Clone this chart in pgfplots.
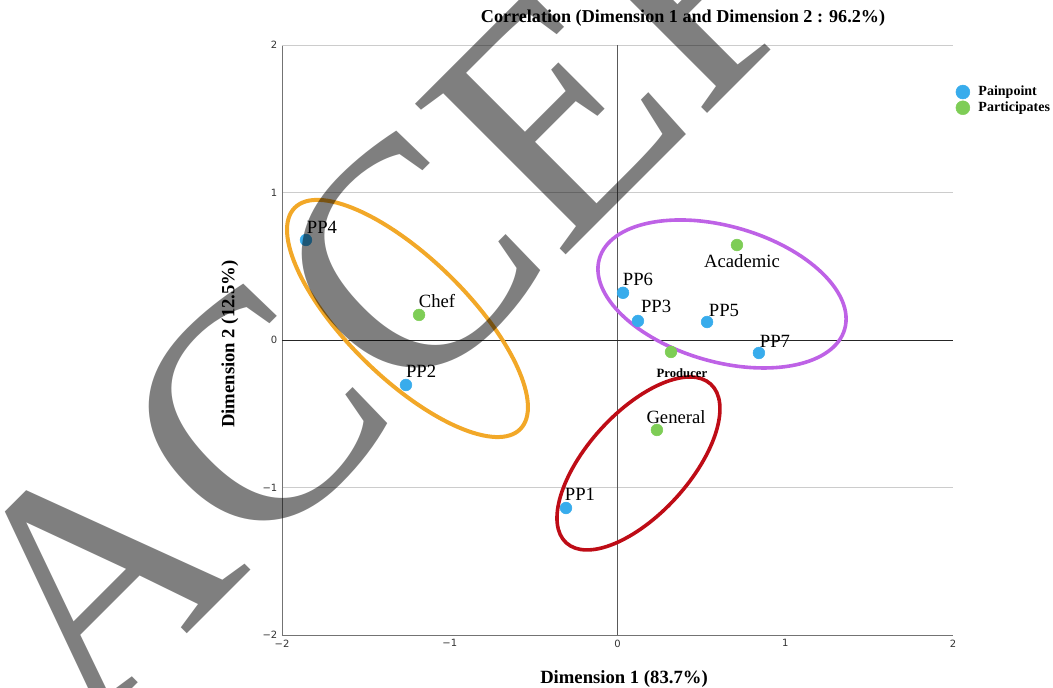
\documentclass[border=0pt]{standalone}
\usepackage{fontspec}
\setmainfont{Liberation Serif}
\newfontfamily\tickfont{DejaVu Sans}
\usepackage{pgfplots}
\pgfplotsset{compat=1.18}
\definecolor{blueC}{RGB}{56,172,236}
\definecolor{greenC}{RGB}{126,205,86}
\definecolor{orangeC}{RGB}{242,168,40}
\definecolor{purpleC}{RGB}{190,98,230}
\definecolor{redC}{RGB}{190,12,22}
\begin{document}
\begin{tikzpicture}
\path[use as bounding box] (-211.5pt,-39.75pt) rectangle (578.25pt,476.25pt);
\clip (-211.5pt,-39.75pt) rectangle (578.25pt,476.25pt);
\begin{axis}[
  at={(0,0)}, anchor=south west,
  scale only axis, width=503.25pt, height=442.5pt,
  xmin=-2, xmax=2, ymin=-2, ymax=2,
  axis x line*=bottom, axis y line*=left,
  axis line style={draw=black!55, line width=0.6pt},
  xtick={-2,-1,0,1,2}, ytick={-2,-1,0,1,2},
  xticklabels={−2,−1,0,1,2}, yticklabels={−2,−1,0,1,2},
  major tick length=0pt,
  ticklabel style={font=\tickfont\fontsize{7.5}{9}\selectfont, text=black!80},
  ymajorgrids, grid style={draw=black!20, line width=0.6pt},
  clip=false,
  title={Correlation (Dimension 1 and Dimension 2 : 96.2\%)},
  every axis title/.style={at={(axis description cs:0.5976,1.0458)}, anchor=center, font=\bfseries\fontsize{13.6}{16}\selectfont},
  xlabel={Dimension 1 (83.7\%)},
  xlabel style={at={(axis description cs:0.5097,-0.0746)}, anchor=center, font=\bfseries\fontsize{14}{16}\selectfont},
  ylabel={Dimension 2 (12.5\%)},
  ylabel style={at={(axis description cs:-0.0775,0.493)}, anchor=center, font=\bfseries\fontsize{14}{16}\selectfont},
  legend style={at={(axis description cs:1.004,0.934)}, anchor=north west, draw=none, fill=none,
    font=\bfseries\fontsize{10.5}{12}\selectfont, inner sep=0pt, row sep=0pt, column sep=5pt,
    nodes={inner sep=1.5pt}},
  legend cell align=left,
  legend image code/.code={\draw[#1, mark size=5.2pt] plot coordinates {(0pt,0pt)};},
]
\draw[black!20, line width=0.6pt] (axis cs:-2,2) -- (axis cs:2,2);
\draw[black!65, line width=0.7pt] (axis cs:0,-2) -- (axis cs:0,2);
\draw[black!85, line width=0.7pt] (axis cs:-2,0) -- (axis cs:2,0);
\addplot[only marks, mark=*, mark size=4.4pt, mark options={fill=blueC, draw=blueC}] coordinates {
  (-0.307,-1.139) (-1.261,-0.305) (0.122,0.129) (-1.857,0.678) (0.534,0.122) (0.033,0.320) (0.843,-0.088)};
\addlegendentry{Painpoint}
\addplot[only marks, mark=*, mark size=4.4pt, mark options={fill=greenC, draw=greenC}] coordinates {
  (-1.183,0.170) (0.712,0.644) (0.319,-0.081) (0.235,-0.610)};
\addlegendentry{Participates}
\draw[orangeC, line width=3pt, rotate around={-44.4:(axis cs:-1.252,0.146)}] (axis cs:-1.252,0.146) ellipse [x radius=118.5pt, y radius=45pt];
\draw[purpleC, line width=2.7pt, rotate around={-16:(axis cs:0.623,0.312)}] (axis cs:0.623,0.312) ellipse [x radius=95.7pt, y radius=50.8pt];
\draw[redC, line width=2.7pt, rotate around={47.7:(axis cs:0.125,-0.837)}] (axis cs:0.125,-0.837) ellipse [x radius=80.5pt, y radius=38.2pt];
\begin{scope}[every node/.style={font=\fontsize{14}{16}\selectfont, inner sep=0pt}]
\node at (axis cs:-1.762,0.766) {PP4};
\node at (axis cs:-1.076,0.264) {Chef};
\node at (axis cs:-1.171,-0.210) {PP2};
\node at (axis cs:0.122,0.414) {PP6};
\node at (axis cs:0.230,0.231) {PP3};
\node at (axis cs:0.635,0.203) {PP5};
\node at (axis cs:0.939,-0.007) {PP7};
\node at (axis cs:0.742,0.536) {Academic};
\node at (axis cs:0.349,-0.522) {General};
\node at (axis cs:-0.224,-1.044) {PP1};
\node[font=\bfseries\fontsize{9.5}{11}\selectfont] at (axis cs:0.384,-0.224) {Producer};
\end{scope}
\end{axis}
\node[rotate=45, anchor=base west, opacity=0.5, text=black, inner sep=0pt, font=\fontsize{244}{244}\selectfont] at (-147pt,-75pt) {ACCEPTED MANUSCRIPT};
\end{tikzpicture}
\end{document}
